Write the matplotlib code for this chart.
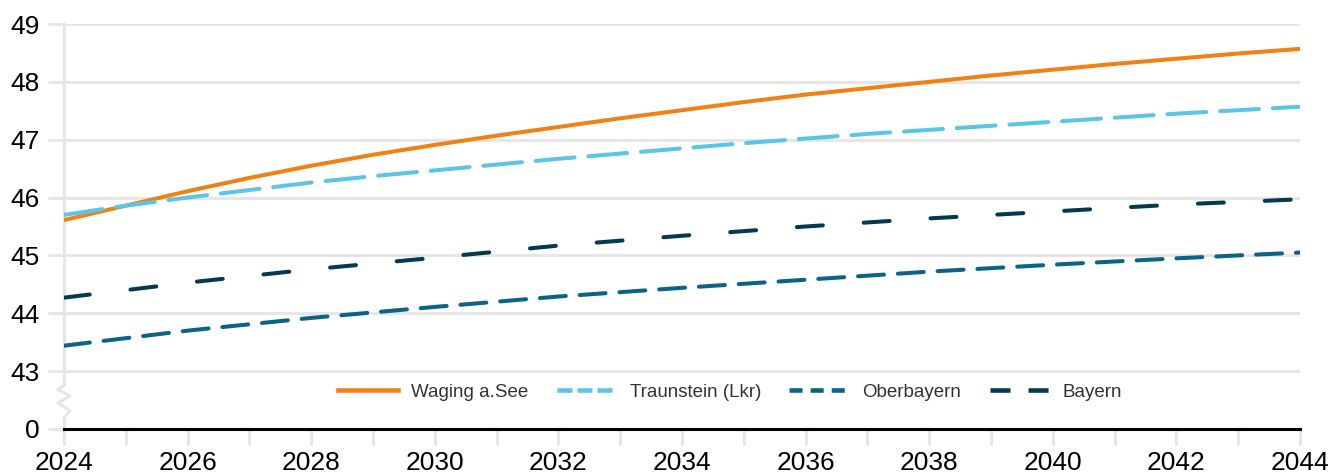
import matplotlib
matplotlib.use("Agg")
import matplotlib.pyplot as plt
from matplotlib.lines import Line2D
import numpy as np

years = list(range(2024, 2045))
waging = [45.61, 45.86, 46.11, 46.34, 46.55, 46.74, 46.91, 47.07, 47.22, 47.37, 47.51,
          47.65, 47.78, 47.89, 48.00, 48.11, 48.21, 48.31, 48.40, 48.49, 48.57]
traunstein = [45.70, 45.86, 46.00, 46.13, 46.26, 46.37, 46.47, 46.57, 46.67, 46.76, 46.85,
              46.94, 47.02, 47.10, 47.17, 47.24, 47.31, 47.38, 47.45, 47.51, 47.57]
years2 = [2024, 2026, 2028, 2030, 2032, 2034, 2036, 2038, 2040, 2042, 2044]
oberbayern = [43.44, 43.70, 43.92, 44.11, 44.29, 44.44, 44.58, 44.72, 44.84, 44.95, 45.05]
bayern = [44.27, 44.53, 44.76, 44.96, 45.17, 45.34, 45.50, 45.64, 45.76, 45.88, 45.97]
labels = ["Waging a.See", "Traunstein (Lkr)", "Oberbayern", "Bayern"]
ytick_vals = [42, 43, 44, 45, 46, 47, 48, 49]
ytick_labels = ["0", "43", "44", "45", "46", "47", "48", "49"]

plt.rcParams['font.family'] = ['Liberation Sans', 'DejaVu Sans']
plt.rcParams['lines.scale_dashes'] = False

fig = plt.figure(figsize=(13.35, 4.76), dpi=100)
ax = fig.add_axes([64/1335, 1-429/476, (1300-64)/1335, (429-24)/476])

grid_c = "#e6e6e6"
for v in ytick_vals[1:]:
    ax.axhline(v, color=grid_c, lw=2.2, zorder=0)

# left axis line with break
ax.plot([2024, 2024], [49, 42.76], color=grid_c, lw=2.2, zorder=1, clip_on=False)
ax.plot([2024, 2024], [42.19, 42], color=grid_c, lw=2.2, zorder=1, clip_on=False)
zx = np.array([0, -6, 6, -6, 6, 0])
zy = np.array([42.76, 42.68, 42.57, 42.45, 42.32, 42.19])
xs_data = [2024 + dx * 20 / 1236 for dx in zx]
ax.plot(xs_data, zy, color=grid_c, lw=2.2, zorder=1, clip_on=False)

col_w = "#f08113"
col_t = "#5bc5e8"
col_o = "#0b6487"
col_b = "#033a4f"
lw = 2.9
ax.plot(years, waging, color=col_w, lw=lw, solid_capstyle='round', zorder=3)
ax.plot(years, traunstein, color=col_t, lw=lw, dashes=(28, 10), dash_capstyle='round', zorder=3)
ax.plot(years2, oberbayern, color=col_o, lw=lw, dashes=(18.7, 10), dash_capstyle='round', zorder=3)
ax.plot(years2, bayern, color=col_b, lw=lw, dashes=(18.7, 29.5), dash_capstyle='round', zorder=3)

ax.axhline(42, color="black", lw=2.2, zorder=4, clip_on=False)

ax.set_xlim(2024, 2044)
ax.set_ylim(42, 49)
for s in ax.spines.values():
    s.set_visible(False)

ax.set_yticks(ytick_vals)
ax.set_yticklabels(ytick_labels)
ax.tick_params(axis='y', length=11.5, width=2.2, color=grid_c, labelsize=19, pad=6, labelcolor="black")
ax.set_xticks(list(range(2024, 2045)))
ax.set_xticklabels([str(y) if (y % 2 == 0) else "" for y in range(2024, 2045)])
ax.tick_params(axis='x', length=11.5, width=2.2, color=grid_c, labelsize=19, pad=4, labelcolor="black")

handles = [
    Line2D([], [], color=col_w, lw=3.3),
    Line2D([], [], color=col_t, lw=3.3, dashes=(10.8, 3.6)),
    Line2D([], [], color=col_o, lw=3.3, dashes=(9.4, 5.8)),
    Line2D([], [], color=col_b, lw=3.3, dashes=(14.4, 13)),
]
leg = ax.legend(handles, labels, loc='center', bbox_to_anchor=(0.539, 0.091), ncol=4,
                frameon=False, handlelength=3.2, handletextpad=0.7, columnspacing=1.5,
                prop={'size': 13.5})
for t in leg.get_texts():
    t.set_color("#333333")

fig.savefig("out.png", dpi=100)
